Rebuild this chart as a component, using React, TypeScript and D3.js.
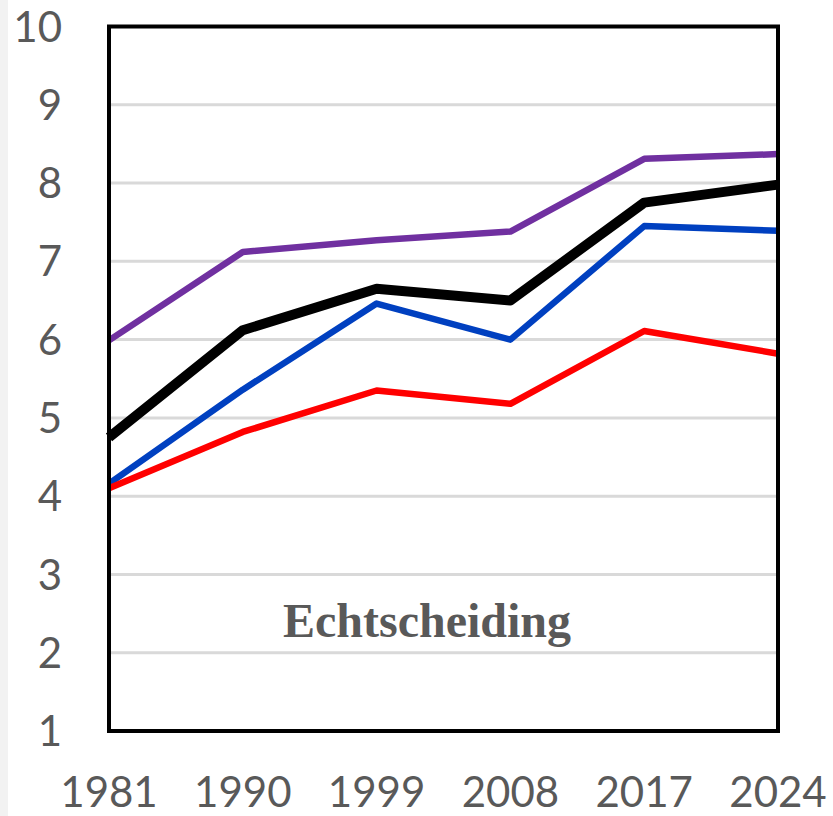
import { useRef, useEffect } from "react";
import * as d3 from "d3";

const years = ["1981", "1990", "1999", "2008", "2017", "2024"];
const yTicks = [1, 2, 3, 4, 5, 6, 7, 8, 9, 10];

const purple = [5.99, 7.12, 7.27, 7.38, 8.31, 8.37];
const black = [4.75, 6.12, 6.65, 6.5, 7.75, 7.98];
const blue = [4.16, 5.36, 6.46, 6.0, 7.45, 7.39];
const red = [4.1, 4.82, 5.35, 5.18, 6.11, 5.82];

const title = "Echtscheiding";

export default function App() {
    const svgRef = useRef(null);

    useEffect(() => {
        const svg = d3.select(svgRef.current);
        svg.selectAll("*").remove();

        const left = 109, right = 778, top = 26.5, bottom = 731;
        const x = d3.scalePoint().domain(years).range([left, right]);
        const y = d3.scaleLinear().domain([1, 10]).range([bottom, top]);

        // faint strip on the left edge
        svg.append("rect").attr("x", 0).attr("y", 0).attr("width", 8).attr("height", 816).attr("fill", "#f2f2f2");

        // gridlines
        svg.append("g")
            .selectAll("line")
            .data(yTicks)
            .join("line")
            .attr("x1", left)
            .attr("x2", right)
            .attr("y1", d => y(d))
            .attr("y2", d => y(d))
            .attr("stroke", "#d9d9d9")
            .attr("stroke-width", 3);

        // y labels
        svg.append("g")
            .selectAll("text")
            .data(yTicks)
            .join("text")
            .attr("x", 62)
            .attr("y", d => y(d))
            .attr("dy", "0.36em")
            .attr("text-anchor", "end")
            .attr("font-family", "Lato, 'Open Sans', sans-serif")
            .attr("font-size", 42)
            .attr("fill", "#595959")
            .text(d => d);

        // x labels
        svg.append("g")
            .selectAll("text")
            .data(years)
            .join("text")
            .attr("x", d => x(d))
            .attr("y", 807)
            .attr("text-anchor", "middle")
            .attr("font-family", "Lato, 'Open Sans', sans-serif")
            .attr("font-size", 42)
            .attr("fill", "#595959")
            .text(d => d);

        svg.append("text")
            .attr("x", 427)
            .attr("y", 637)
            .attr("text-anchor", "middle")
            .attr("font-family", "'Liberation Serif', 'Times New Roman', serif")
            .attr("font-weight", "bold")
            .attr("font-size", 48)
            .attr("fill", "#595959")
            .text(title);

        const series = [
            { values: blue, color: "#0040C0", width: 6.5 },
            { values: red, color: "#FF0000", width: 6.5 },
            { values: purple, color: "#7030A0", width: 6.5 },
            { values: black, color: "#000000", width: 10 },
        ];

        const myLine = d3.line<number>()
            .x((_, i) => x(years[i]) as number)
            .y(v => y(v));

        svg.append("g")
            .selectAll("path")
            .data(series)
            .join("path")
            .attr("d", s => myLine(s.values))
            .attr("fill", "none")
            .attr("stroke", s => s.color)
            .attr("stroke-width", s => s.width)
            .attr("stroke-linejoin", "round");

        // frame
        svg.append("rect")
            .attr("x", left)
            .attr("y", top)
            .attr("width", right - left)
            .attr("height", bottom - top)
            .attr("fill", "none")
            .attr("stroke", "#000")
            .attr("stroke-width", 4);
    }, []);

    return (
        <svg
            ref={svgRef}
            width={833}
            height={816}
            style={{ position: "absolute", top: 0, left: 0, background: "#fff" }}
        />
    );
}
